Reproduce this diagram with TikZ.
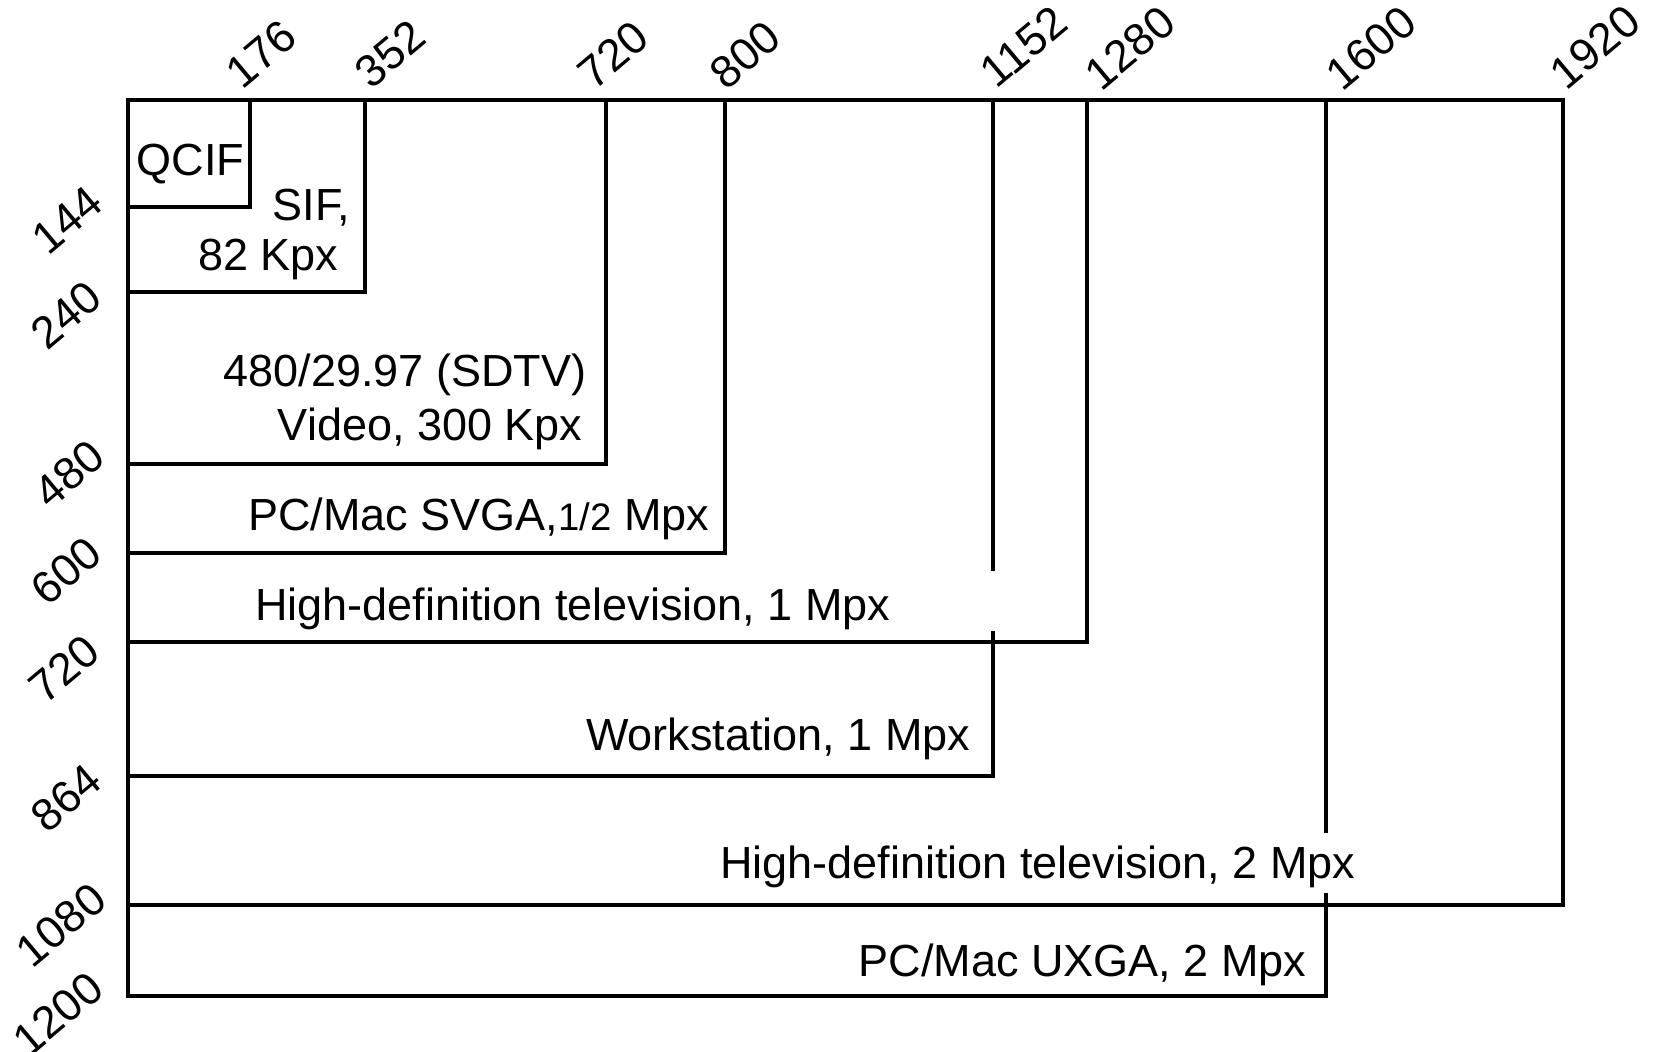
\documentclass[tikz,border=0pt]{standalone}
\usepackage{fontspec}
\setmainfont{Liberation Sans}
\begin{document}
\begin{tikzpicture}[x=0.3pt,y=-0.3pt,
  frame/.style={line width=1.05pt,line cap=rect},
  txt/.style={inner sep=0pt,font=\fontsize{13.5}{16}\selectfont},
  axlab/.style={inner sep=0pt,rotate=40,font=\fontsize{13.5}{16}\selectfont}]
\useasboundingbox (0,0) rectangle (1659,1051);
% outer lines
\draw[frame,line width=1.3pt] (128,100) -- (1563,100);
\draw[frame] (1563,100) -- (1563,905) -- (128,905);
\draw[frame] (128,100) -- (128,996) -- (1326,996);
% QCIF 176x144
\draw[frame] (250,100) -- (250,207) -- (128,207);
% SIF 352x240
\draw[frame] (365,100) -- (365,292) -- (128,292);
% 720x480
\draw[frame] (606,100) -- (606,464) -- (128,464);
% 800x600
\draw[frame] (725,100) -- (725,553) -- (128,553);
% 1280x720
\draw[frame] (1087,100) -- (1087,642) -- (128,642);
% 1152x864 with gap
\draw[frame] (993,100) -- (993,569);
\draw[frame] (993,633) -- (993,776) -- (128,776);
% 1600x1200 with gap
\draw[frame] (1326,100) -- (1326,831);
\draw[frame] (1326,895) -- (1326,996);
% texts
\node[txt,anchor=base west] (qcif) at (136,175) {QCIF};
\node[txt,anchor=base east] (sif) at (351,220) {SIF,};
\node[txt,anchor=base east] (sifb) at (339,270) {82 Kpx};
\node[txt,anchor=base east] (sdtv) at (587,386) {480/29.97 (SDTV)};
\node[txt,anchor=base east] (sdtvb) at (583,440) {Video, 300 Kpx};
\node[txt,anchor=base east] (svga) at (710,530) {PC/Mac SVGA,{\fontsize{11.5}{13}\selectfont 1/2} Mpx};
\node[txt,anchor=base east] (hd1) at (891,620) {High-definition television, 1 Mpx};
\node[txt,anchor=base east] (ws) at (971,750) {Workstation, 1 Mpx};
\node[txt,anchor=base east] (hd2) at (1356,878) {High-definition television, 2 Mpx};
\node[txt,anchor=base east] (uxga) at (1307,976) {PC/Mac UXGA, 2 Mpx};
% top axis labels
\node[axlab] (t176) at (261,54) {176};
\node[axlab] (t352) at (390,54) {352};
\node[axlab] (t720) at (613,55) {720};
\node[axlab] (t800) at (745,55) {800};
\node[axlab] (t1152) at (1024,47) {1152};
\node[axlab] (t1280) at (1130,48) {1280};
\node[axlab] (t1600) at (1371,48) {1600};
\node[axlab] (t1920) at (1595,47) {1920};
% left axis labels
\node[axlab] (l144) at (67,220) {144};
\node[axlab] (l240) at (66,315) {240};
\node[axlab] (l480) at (69,474) {480};
\node[axlab] (l600) at (66,571) {600};
\node[axlab] (l720) at (64,669) {720};
\node[axlab] (l864) at (66,798) {864};
\node[axlab] (l1080) at (61,925) {1080};
\node[axlab] (l1200) at (58,1014) {1200};
\end{tikzpicture}
\end{document}
